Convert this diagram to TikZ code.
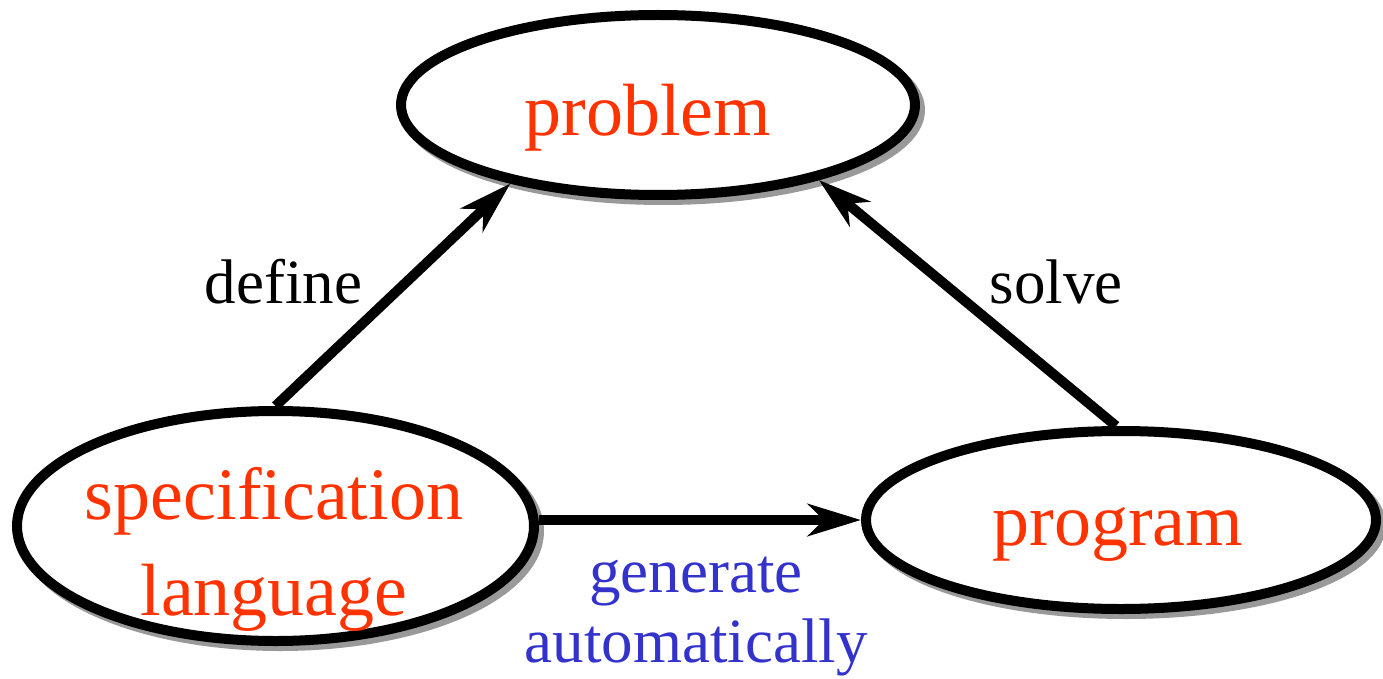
\documentclass[tikz,border=0pt]{standalone}
\usepackage{fontspec}
\setmainfont{Liberation Serif}
\usetikzlibrary{arrows.meta,shapes.geometric,shadows}
\definecolor{termred}{HTML}{FF3300}
\definecolor{verbblue}{HTML}{3333CC}
\begin{document}
\begin{tikzpicture}[x=1pt,y=-1pt,
  concept/.style={ellipse, draw=black, line width=10pt, fill=white, inner sep=0pt,
    drop shadow={shadow xshift=5pt, shadow yshift=-5pt, fill=black!40,
                 draw=black!40, line width=10pt, opacity=1}},
  term/.style={text=termred, font=\fontsize{74}{96}\selectfont, align=center, inner sep=0pt},
  verb/.style={font=\fontsize{63}{70}\selectfont, align=center, inner sep=0pt},
  link/.style={line width=10pt, -{Stealth[length=53pt,width=32pt,inset=16pt]}}]
  \useasboundingbox (0,0) rectangle (1383,679);

  % the three concepts
  \node[concept, minimum width=514pt, minimum height=180pt] (prob) at (658,105) {};
  \node[concept, minimum width=517pt, minimum height=230pt] (spec) at (275.5,526) {};
  \node[concept, minimum width=510pt, minimum height=178pt] (prog) at (1121,520) {};

  \node[term, anchor=base] (probtxt) at (648,136) {problem};
  \node[term] (spectxt) at (274,549) {specification\\language};
  \node[term, anchor=base] (progtxt) at (1118,545) {program};

  % relations between them
  \draw[link] (spec.north) -- (prob.208);
  \draw[link] (prog.93) -- (prob.335);
  \draw[link] (spec.east |- prog.west) -- (prog.west);

  \node[verb, anchor=base] (deflbl) at (283.5,303) {define};
  \node[verb, anchor=base] (sollbl) at (1056,303) {solve};
  \node[verb, text=verbblue, anchor=base] (genlbl) at (696,662) {generate\\automatically};
\end{tikzpicture}
\end{document}
